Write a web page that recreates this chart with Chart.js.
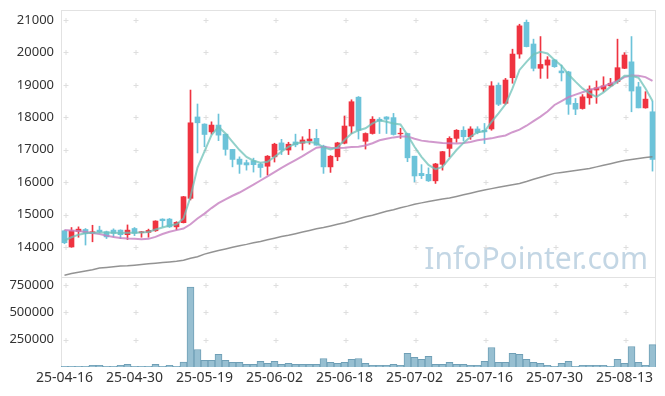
<!DOCTYPE html>
<html lang="ko">
<head>
  <meta charset="UTF-8">
  <title>주가 차트</title>
  <script src="https://cdn.jsdelivr.net/npm/chart.js"></script>
  <style>
    html, body { margin: 0; padding: 0; background: #fff; }
    #wrap { width: 665px; height: 396px; }
  </style>
</head>
<body>
  <div id="wrap"><canvas id="chart" width="665" height="396"></canvas></div>
  <script>
    const dates = [
      '25-04-16','25-04-17','25-04-18','25-04-21','25-04-22','25-04-23','25-04-24','25-04-25','25-04-28','25-04-29',
      '25-04-30','25-05-02','25-05-07','25-05-08','25-05-09','25-05-12','25-05-13','25-05-14','25-05-15','25-05-16',
      '25-05-19','25-05-20','25-05-21','25-05-22','25-05-23','25-05-26','25-05-27','25-05-28','25-05-29','25-05-30',
      '25-06-02','25-06-04','25-06-05','25-06-09','25-06-10','25-06-11','25-06-12','25-06-13','25-06-16','25-06-17',
      '25-06-18','25-06-19','25-06-20','25-06-23','25-06-24','25-06-25','25-06-26','25-06-27','25-06-30','25-07-01',
      '25-07-02','25-07-03','25-07-04','25-07-07','25-07-08','25-07-09','25-07-10','25-07-11','25-07-14','25-07-15',
      '25-07-16','25-07-17','25-07-18','25-07-21','25-07-22','25-07-23','25-07-24','25-07-25','25-07-28','25-07-29',
      '25-07-30','25-07-31','25-08-01','25-08-04','25-08-05','25-08-06','25-08-07','25-08-08','25-08-11','25-08-12',
      '25-08-13','25-08-14','25-08-18','25-08-19','25-08-20'
    ];

    const open = [
      14500,14000,14480,14540,14420,14520,14470,14520,14520,14380,
      14570,14440,14450,14500,14860,14860,14620,14750,15500,18010,
      17790,17550,17760,17480,17010,16710,16600,16660,16560,16490,
      16780,17210,16990,17240,17200,17270,17350,17110,16470,16780,
      17200,17730,18620,17260,17500,17940,18010,17990,17490,17500,
      16800,16270,16240,16040,16550,17040,17350,17600,17400,17640,
      17600,17640,18990,18430,19220,19950,20930,20260,19510,19610,
      19770,19430,19400,18430,18270,18600,18840,18870,18970,19100,
      19510,19710,18940,18290,18170
    ];
    const high = [
      14520,14600,14620,14570,14670,14640,14490,14560,14530,14680,
      14600,14480,14550,14810,14870,14880,14780,15560,18840,18410,
      17800,17860,18100,17480,17010,16780,16680,16740,16590,16820,
      17200,17320,17230,17480,17400,17630,17630,17140,16820,17230,
      18040,18540,18640,17520,18020,17990,18020,18120,17660,17510,
      16800,16540,16440,16580,16950,17400,17620,17710,17710,17710,
      17810,19100,19060,19200,20100,20870,21000,20410,20490,19870,
      19780,19610,19420,18580,18700,18970,19120,19250,19200,20410,
      19990,20490,19080,18790,18500
    ];
    const low = [
      14100,13990,14300,14060,14160,14440,14260,14310,14260,14230,
      14350,14300,14300,14480,14620,14600,14530,14740,15450,16900,
      17090,17480,17280,16830,16470,16270,16370,16310,16150,16220,
      16620,16850,16850,17090,16990,17170,17140,16270,16300,16660,
      17180,17500,17330,17020,17480,17500,17500,17450,17350,16630,
      16010,16110,16020,15960,16370,16780,17230,17270,17320,17490,
      17190,17600,18360,18400,19050,19820,20170,19430,19200,19200,
      19540,19120,18090,18080,18250,18400,18430,18790,18950,19050,
      19500,18170,18290,18280,16340
    ];
    const close = [
      14130,14500,14550,14420,14470,14470,14310,14420,14380,14520,
      14420,14470,14510,14800,14810,14620,14760,15550,17830,17830,
      17470,17760,17450,17010,16700,16550,16530,16540,16450,16800,
      17170,16990,17170,17150,17300,17330,17140,16470,16800,17210,
      17730,18480,17600,17500,17940,17880,17940,17470,17510,16750,
      16190,16200,16040,16560,16940,17350,17600,17400,17640,17530,
      17550,18970,18400,19150,19950,20820,20180,19510,19630,19770,
      19560,19370,18400,18250,18630,18870,18910,18970,19050,19530,
      19920,18810,18290,18560,16700
    ];
    const volume = [
      6000,6000,6000,6000,15000,15000,6000,6000,15000,24000,
      6000,6000,6000,24000,6000,15000,6000,45000,731000,160000,
      60000,60000,115000,60000,42000,42000,24000,24000,51000,33000,
      51000,24000,33000,24000,24000,24000,24000,78000,42000,33000,
      42000,69000,78000,33000,15000,15000,15000,24000,15000,124000,
      88000,69000,97000,24000,24000,42000,24000,24000,15000,15000,
      51000,178000,42000,42000,124000,115000,69000,42000,33000,15000,
      6000,33000,51000,6000,15000,15000,15000,15000,6000,69000,
      33000,187000,42000,15000,205000
    ];
    const ma5 = [
      14200,14300,14380,14420,14440,14450,14450,14440,14430,14440,
      14440,14450,14460,14540,14600,14660,14700,14880,15550,16450,
      16950,17450,17710,17500,17240,16990,16780,16660,16600,16630,
      16780,16940,17090,17190,17230,17240,17210,17070,17010,17070,
      17300,17500,17600,17660,17810,17910,17860,17810,17780,17450,
      17090,16780,16530,16400,16470,16730,16990,17210,17400,17540,
      17570,17860,18120,18400,18890,19460,19710,19940,20020,19970,
      19770,19590,19320,19100,18890,18740,18630,18770,18940,19100,
      19280,19280,19220,18890,18500
    ];
    const ma20 = [
      14520,14510,14490,14460,14430,14400,14350,14310,14280,14260,
      14250,14240,14250,14310,14400,14470,14520,14570,14700,14880,
      15030,15200,15350,15470,15580,15680,15800,15920,16050,16180,
      16310,16440,16560,16680,16800,16930,17060,17090,17060,17050,
      17060,17080,17090,17130,17200,17290,17340,17380,17410,17410,
      17340,17280,17250,17230,17210,17200,17190,17210,17240,17290,
      17320,17350,17400,17440,17540,17620,17740,17880,18020,18180,
      18380,18500,18620,18700,18770,18840,18900,18960,19040,19120,
      19240,19290,19280,19240,19120
    ];
    const ma120 = [
      13130,13180,13220,13260,13300,13350,13370,13390,13410,13420,
      13440,13460,13480,13500,13520,13540,13560,13590,13650,13700,
      13780,13840,13890,13940,13990,14040,14080,14130,14170,14220,
      14270,14320,14360,14410,14460,14510,14560,14600,14650,14700,
      14750,14810,14870,14930,14980,15040,15100,15150,15210,15260,
      15320,15360,15400,15440,15480,15510,15560,15610,15660,15710,
      15760,15800,15840,15880,15920,15960,16020,16090,16150,16210,
      16270,16300,16330,16360,16390,16420,16470,16520,16570,16620,
      16670,16700,16730,16760,16780
    ];

    const yTicksMain = [14000, 15000, 16000, 17000, 18000, 19000, 20000, 21000];
    const yTicksVol = [250000, 500000, 750000];

    const UP = '#ef3340';
    const DOWN = '#6cc3d9';
    const candleColors = close.map((c, i) => c >= open[i] ? UP : DOWN);

    const GRID = '#e2e2e2';
    const FONT = '"Noto Sans", "DejaVu Sans", sans-serif';

    // crosses at grid points, panel frames, watermark
    const decor = {
      id: 'decor',
      beforeDatasetsDraw(chart) {
        const { ctx, scales } = chart;
        const x = scales.x, y = scales.y, yv = scales.yv;
        ctx.save();
        ctx.font = '30px ' + FONT;
        ctx.fillStyle = 'rgba(188,210,225,0.9)';
        ctx.textAlign = 'right';
        ctx.textBaseline = 'alphabetic';
        ctx.fillText('InfoPointer.com', x.right - 8, y.bottom - 8);

        ctx.strokeStyle = GRID;
        ctx.lineWidth = 1;
        ctx.strokeRect(x.left + 0.5, y.top + 0.5, x.right - x.left - 1, y.bottom - y.top);
        ctx.strokeRect(x.left + 0.5, yv.top + 0.5, x.right - x.left - 1, yv.bottom - yv.top - 1);

        const xs = [];
        dates.forEach((d, i) => { if (i % 10 === 0) xs.push(Math.round(x.getPixelForValue(i)) + 0.5); });
        const ys = yTicksMain.map(v => Math.round(y.getPixelForValue(v)) + 0.5)
          .concat(yTicksVol.map(v => Math.round(yv.getPixelForValue(v)) + 0.5));
        ctx.beginPath();
        xs.forEach(px => ys.forEach(py => {
          ctx.moveTo(px - 2, py); ctx.lineTo(px + 3, py);
          ctx.moveTo(px + 0.5, py - 2.5); ctx.lineTo(px + 0.5, py + 2.5);
        }));
        ctx.strokeStyle = '#dedede';
        ctx.stroke();
        ctx.restore();
      }
    };

    // fixed width, no label overflow padding
    const fitY = s => { s.width = 61; s.paddingTop = 0; s.paddingBottom = 0; };

    new Chart(document.getElementById('chart'), {
      data: {
        labels: dates,
        datasets: [
          {
            type: 'bar',
            label: '고저',
            data: dates.map((d, i) => [low[i], high[i]]),
            backgroundColor: candleColors,
            barThickness: 1,
            grouped: false,
            yAxisID: 'y',
            order: 3
          },
          {
            type: 'bar',
            label: '시종',
            data: dates.map((d, i) => [open[i], close[i]]),
            backgroundColor: candleColors,
            barThickness: 5,
            grouped: false,
            yAxisID: 'y',
            order: 2
          },
          {
            type: 'line',
            label: 'MA5',
            data: ma5,
            borderColor: 'rgba(110,194,184,0.75)',
            borderWidth: 2,
            pointRadius: 0,
            yAxisID: 'y',
            order: 0
          },
          {
            type: 'line',
            label: 'MA20',
            data: ma20,
            borderColor: 'rgba(198,128,192,0.8)',
            borderWidth: 2,
            pointRadius: 0,
            yAxisID: 'y',
            order: 1
          },
          {
            type: 'line',
            label: 'MA120',
            data: ma120,
            borderColor: 'rgba(128,128,128,0.85)',
            borderWidth: 1.5,
            pointRadius: 0,
            yAxisID: 'y',
            order: 1
          },
          {
            type: 'bar',
            label: '거래량',
            data: volume,
            backgroundColor: '#97bfd1',
            borderColor: '#6f9fb6',
            borderWidth: 1,
            barPercentage: 1,
            categoryPercentage: 1,
            grouped: false,
            yAxisID: 'yv',
            order: 4
          }
        ]
      },
      options: {
        responsive: false,
        animation: false,
        events: [],
        layout: { padding: { top: 10, right: 9, left: 0, bottom: 0 } },
        plugins: { legend: { display: false }, tooltip: { enabled: false } },
        scales: {
          x: {
            type: 'category',
            offset: true,
            grid: { display: false, drawTicks: false },
            border: { display: false },
            afterFit: s => { s.height = 29; },
            ticks: {
              autoSkip: false,
              maxRotation: 0,
              padding: 3,
              color: '#333',
              font: { family: FONT, size: 14 },
              callback: (v, i) => i % 10 === 0 ? dates[i] : ''
            }
          },
          yv: {
            position: 'left',
            stack: 'panels',
            stackWeight: 90,
            min: 0,
            max: 822000,
            grid: { display: false, drawTicks: false },
            border: { display: false },
            afterFit: fitY,
            afterBuildTicks: s => { s.ticks = yTicksVol.map(v => ({ value: v })); },
            ticks: {
              padding: 7,
              color: '#333',
              font: { family: FONT, size: 13 },
              callback: v => String(v)
            }
          },
          y: {
            position: 'left',
            stack: 'panels',
            stackWeight: 267,
            min: 13074,
            max: 21309,
            grid: { display: false, drawTicks: false },
            border: { display: false },
            afterFit: fitY,
            afterBuildTicks: s => { s.ticks = yTicksMain.map(v => ({ value: v })); },
            ticks: {
              padding: 7,
              color: '#333',
              font: { family: FONT, size: 13 },
              callback: v => String(v)
            }
          }
        }
      },
      plugins: [decor]
    });
  </script>
</body>
</html>
